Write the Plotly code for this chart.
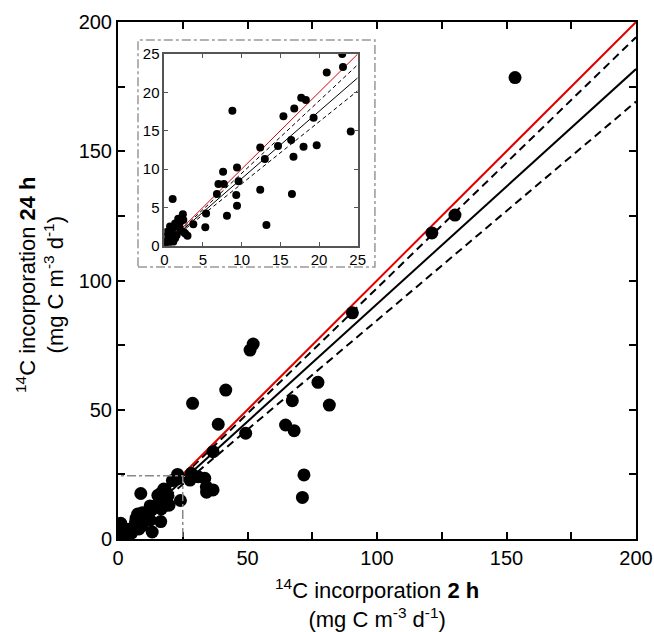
import plotly.graph_objects as go

# ---- data ----
x_2h = [0.1, 0.5, 1.16, 0.05, 0.1, 0.74, 1.4, 0.3, 0.95, 1.6, 2.7, 3.0, 0.74, 1.16, 2.0,
        1.4, 1.8, 2.46, 2.4, 1.08, 3.75, 5.3, 2.5, 2.0,
        5.4, 8.1, 9.4, 6.8, 9.3, 12.4, 16.5, 7.0, 7.7, 9.6, 7.6, 9.4, 13.0, 16.7, 12.4,
        14.7, 16.4, 18.0, 19.7, 13.2, 8.8, 15.4, 16.8, 19.3, 24.1, 17.7, 18.3, 21.0,
        23.0, 23.1,
        27.8, 28.3, 30.9, 33.5, 34.1, 36.7, 34.2, 36.7, 28.8, 38.7, 41.6, 49.3, 51.0,
        52.2, 64.7, 68.0, 67.3, 77.2, 81.6, 71.8, 71.2, 90.5, 121.2, 130.1, 153.3]
y_24h = [0.3, 0.3, 0.5, 0.5, 1.15, 1.17, 0.96, 1.8, 1.6, 1.4, 1.6, 1.3, 2.5, 2.3, 2.3,
         2.9, 3.5, 3.35, 4.1, 6.1, 2.8, 2.4, 1.8, 3.0,
         4.2, 3.9, 5.2, 6.75, 6.6, 7.3, 6.75, 8.05, 8.05, 8.4, 9.65, 10.2, 11.3, 11.6, 12.8,
         13.0, 13.8, 12.9, 13.1, 2.7, 17.6, 16.9, 17.9, 16.7, 14.9, 19.3, 19.0, 22.6,
         25.0, 23.3,
         22.8, 25.4, 24.1, 23.5, 20.2, 19.0, 18.1, 33.8, 52.5, 44.4, 57.6, 40.9, 73.1,
         75.4, 44.1, 41.9, 53.5, 60.6, 51.8, 24.8, 16.1, 87.5, 118.4, 125.3, 178.5]

# regression slope (solid) and confidence limits (dashed), main and inset
main_x = [0, 200]
main_fit = [0, 181.8]
main_upper = [0, 194.1]
main_lower = [0, 169.2]
one_to_one = [0, 200]

inset_x = [0, 25]
inset_fit = [0, 21.9]
inset_upper = [0, 23.6]
inset_lower = [0, 20.2]
inset_one = [0, 25]

main_ticks = [0, 50, 100, 150, 200]
main_ticktext = ["0", "50", "100", "150", "200"]
main_minor_ticks = [25, 75, 125, 175]
inset_ticks = [0, 5, 10, 15, 20, 25]
inset_ticktext = ["0", "5", "10", "15", "20", "25"]

x_title = "<sup>14</sup>C incorporation <b>2 h</b><br>(mg C m<sup>-3</sup> d<sup>-1</sup>)"
y_title = "<sup>14</sup>C incorporation <b>24 h</b><br>(mg C m<sup>-3</sup> d<sup>-1</sup>)"

FONT = "Liberation Sans, Arial, sans-serif"

fig = go.Figure()

# main lines
fig.add_trace(go.Scatter(x=main_x, y=main_upper, mode="lines",
                         line=dict(color="black", width=2, dash="8px,5px"), hoverinfo="skip"))
fig.add_trace(go.Scatter(x=main_x, y=main_lower, mode="lines",
                         line=dict(color="black", width=2, dash="8px,5px"), hoverinfo="skip"))
fig.add_trace(go.Scatter(x=main_x, y=main_fit, mode="lines",
                         line=dict(color="black", width=2), hoverinfo="skip"))
fig.add_trace(go.Scatter(x=main_x, y=one_to_one, mode="lines",
                         line=dict(color="#e00000", width=2), hoverinfo="skip"))
fig.add_trace(go.Scatter(x=x_2h, y=y_24h, mode="markers",
                         marker=dict(color="black", size=13)))

# inset
fig.add_trace(go.Scatter(x=inset_x, y=inset_upper, mode="lines", xaxis="x2", yaxis="y2",
                         line=dict(color="black", width=1, dash="4px,3px"), hoverinfo="skip"))
fig.add_trace(go.Scatter(x=inset_x, y=inset_lower, mode="lines", xaxis="x2", yaxis="y2",
                         line=dict(color="black", width=1, dash="4px,3px"), hoverinfo="skip"))
fig.add_trace(go.Scatter(x=inset_x, y=inset_fit, mode="lines", xaxis="x2", yaxis="y2",
                         line=dict(color="black", width=1), hoverinfo="skip"))
fig.add_trace(go.Scatter(x=inset_x, y=inset_one, mode="lines", xaxis="x2", yaxis="y2",
                         line=dict(color="#e00000", width=1), hoverinfo="skip"))
fig.add_trace(go.Scatter(x=x_2h, y=y_24h, mode="markers", xaxis="x2", yaxis="y2",
                         marker=dict(color="black", size=8), cliponaxis=True))

axis_common = dict(showgrid=False, zeroline=False, showline=True, linecolor="black",
                   linewidth=2, mirror="ticks", ticks="inside", ticklen=7, tickwidth=1.5,
                   tickcolor="black", automargin=False,
                   minor=dict(tickmode="array", tickvals=main_minor_ticks, ticks="inside",
                              ticklen=7, tickwidth=1.5, tickcolor="black", showgrid=False),
                   tickfont=dict(family=FONT, size=20, color="black"))
inset_common = dict(showgrid=False, zeroline=False, showline=True, linecolor="#555",
                    linewidth=1.5, mirror="ticks", ticks="inside", ticklen=4, tickcolor="#555",
                    automargin=False, tickfont=dict(family=FONT, size=15, color="black"))

fig.update_layout(
    width=654, height=632,
    margin=dict(l=118, r=18, t=22, b=93, autoexpand=False),
    paper_bgcolor="white", plot_bgcolor="white",
    showlegend=False,
    font=dict(family=FONT, color="black"),
    xaxis=dict(range=[0, 200], tickvals=main_ticks, ticktext=main_ticktext, **axis_common),
    yaxis=dict(range=[0, 200], tickvals=main_ticks, ticktext=main_ticktext, **axis_common),
    xaxis2=dict(domain=[0.0894, 0.4627], anchor="y2", range=[0, 25],
                tickvals=inset_ticks, ticktext=inset_ticktext, **inset_common),
    yaxis2=dict(domain=[0.5673, 0.938], anchor="x2", range=[0, 25],
                tickvals=inset_ticks, ticktext=inset_ticktext, **inset_common),
    annotations=[
        dict(text=x_title, xref="paper", yref="paper", x=0.5, y=-0.124,
             xanchor="center", yanchor="middle", showarrow=False,
             font=dict(family=FONT, size=22, color="black")),
        dict(text=y_title, xref="paper", yref="paper", x=-0.151, y=0.491,
             xanchor="center", yanchor="middle", showarrow=False, textangle=-90,
             font=dict(family=FONT, size=22, color="black")),
    ],
    shapes=[
        dict(type="rect", xref="paper", yref="paper", x0=0.0386, x1=0.496, y0=0.526, y1=0.965,
             line=dict(color="#999", width=1.5, dash="dashdot"), fillcolor="white", layer="below"),
        dict(type="rect", xref="x", yref="y", x0=-1, x1=25, y0=-1, y1=24.5,
             line=dict(color="#888", width=1.5, dash="dashdot"), layer="above"),
    ],
)

# remove the browser's default 8px body margin so the figure sits at the window corner
fig.write_html("out.html", config={"displayModeBar": False},
               post_script="document.body.style.margin='0';document.body.style.overflow='hidden';")
